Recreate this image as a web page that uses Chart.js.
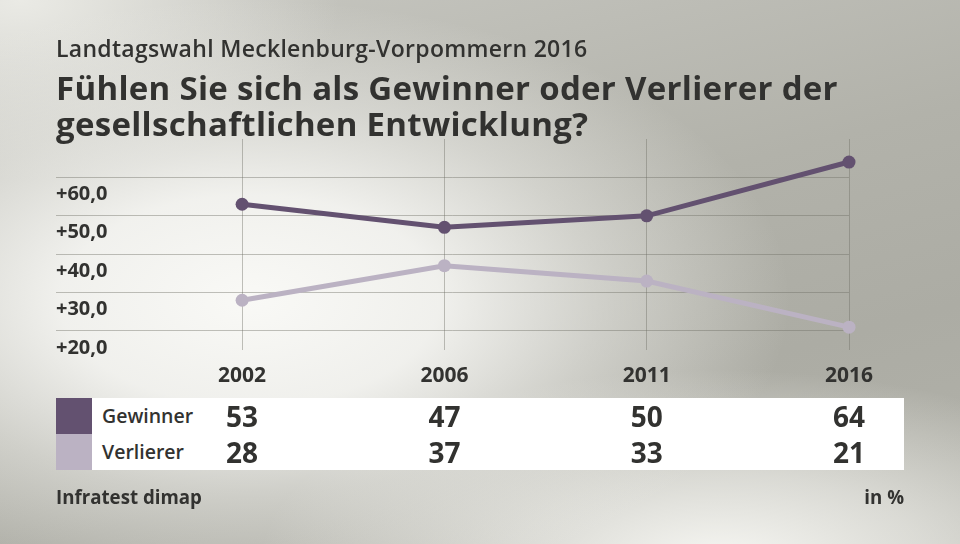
<!DOCTYPE html>
<html>
<head>
<meta charset="utf-8">
<script src="https://cdn.jsdelivr.net/npm/chart.js@4"></script>
<style>
  html, body { margin: 0; padding: 0; }
  body {
    width: 960px; height: 544px; overflow: hidden; position: relative;
    font-family: "Open Sans", sans-serif; color: #323230;
    background:
      radial-gradient(ellipse 540px 300px at 250px 300px, rgba(249,249,246,1) 0%, rgba(247,247,244,0.9) 35%, rgba(240,240,236,0.5) 65%, rgba(240,240,236,0) 100%),
      radial-gradient(ellipse 320px 180px at 20px 0px, rgba(236,236,231,0.95) 0%, rgba(236,236,231,0) 100%),
      radial-gradient(ellipse 460px 190px at 720px 560px, rgba(246,246,242,1) 0%, rgba(246,246,242,0.6) 45%, rgba(246,246,242,0) 100%),
      linear-gradient(165deg, #c8c8c2 0%, #b2b2aa 45%, #acaca4 70%, #b2b2aa 100%);
  }
  #chart { position: absolute; left: 0; top: 0; z-index: 0; }
  .txt { position: absolute; z-index: 1; white-space: nowrap; }
  #sub { left: 56px; top: 37px; font-size: 23px; line-height: 23px; font-weight: 600; letter-spacing: 0.3px; }
  #title { left: 56px; top: 70px; font-size: 33px; line-height: 36px; font-weight: 700; letter-spacing: 0.3px; }
  #source { left: 56px; top: 488px; font-size: 18.7px; line-height: 18px; font-weight: 700; }
  #unit { right: 56px; top: 488px; font-size: 18.7px; line-height: 18px; font-weight: 700; }
  #table { position: absolute; left: 56px; top: 398px; width: 848px; height: 72px; z-index: 1; }
  .row { position: absolute; left: 0; width: 848px; height: 36px; }
  .swatch { position: absolute; left: 0; top: 0; width: 36px; height: 36px; }
  .cells { position: absolute; left: 36px; top: 0; right: 0; height: 36px; background: #fff; }
  .name { position: absolute; left: 46px; top: 0; line-height: 36px; font-size: 19.5px; font-weight: 600; }
  .val { position: absolute; top: 0; line-height: 36px; font-size: 28px; font-weight: 700; transform: translateX(-50%); }
</style>
</head>
<body>
<div id="sub" class="txt">Landtagswahl Mecklenburg-Vorpommern 2016</div>
<div id="title" class="txt">Fühlen Sie sich als Gewinner oder Verlierer der<br>gesellschaftlichen Entwicklung?</div>
<canvas id="chart" width="960" height="544"></canvas>
<div id="table"></div>
<div id="source" class="txt">Infratest dimap</div>
<div id="unit" class="txt">in %</div>
<script>
// values
const years = ["2002", "2006", "2011", "2016"];
const gewinner = [53, 47, 50, 64];
const verlierer = [28, 37, 33, 21];
const yTicks = [20, 30, 40, 50, 60];

const seriesNames = ["Gewinner", "Verlierer"];
const seriesValues = [gewinner, verlierer];
const seriesColors = ["#635170", "#bbb2c3"];

const gridColor = "rgba(110,110,100,0.42)";
const textColor = "#323230";

// build the table rows below the chart
const table = document.getElementById("table");
seriesNames.forEach((name, r) => {
  const row = document.createElement("div");
  row.className = "row";
  row.style.top = (r * 36) + "px";
  row.innerHTML = `<div class="swatch" style="background:${seriesColors[r]}"></div><div class="cells"></div><div class="name">${name}</div>` +
    seriesValues[r].map((v, i) => `<div class="val" data-i="${i}">${v}</div>`).join("");
  table.appendChild(row);
});

// place table values under the x positions of the chart
const tablePlacer = {
  id: "tablePlacer",
  afterDraw(chart) {
    const xs = chart.scales.x;
    document.querySelectorAll(".val").forEach((el) => {
      el.style.left = (xs.getPixelForValue(Number(el.dataset.i)) - 56) + "px";
    });
  }
};

new Chart(document.getElementById("chart"), {
  type: "line",
  data: {
    datasets: seriesNames.map((name, r) => ({
      label: name,
      data: seriesValues[r].map((v, i) => ({ x: i, y: v })),
      borderColor: seriesColors[r],
      backgroundColor: seriesColors[r],
      borderWidth: 5,
      pointRadius: 6.5,
      pointBorderWidth: 0,
      pointBackgroundColor: seriesColors[r],
      tension: 0,
      clip: false
    })).reverse()
  },
  options: {
    responsive: false,
    animation: false,
    events: [],
    layout: { padding: { left: 56, right: 111, top: 139, bottom: 141 } },
    plugins: { legend: { display: false }, tooltip: { enabled: false } },
    scales: {
      x: {
        type: "linear",
        min: -0.92,
        max: 3,
        afterBuildTicks: (s) => { s.ticks = years.map((_, i) => ({ value: i })); },
        ticks: {
          autoSkip: false, maxRotation: 0, padding: 14, color: textColor,
          font: { family: "Open Sans", size: 21, weight: "bold" },
          callback: (v) => years[v]
        },
        grid: { color: gridColor, lineWidth: 1, drawTicks: false },
        border: { display: false }
      },
      y: {
        min: 15.1,
        max: 70,
        afterBuildTicks: (s) => { s.ticks = yTicks.map((v) => ({ value: v })); },
        ticks: {
          mirror: true, padding: 0, labelOffset: 17, color: textColor,
          font: { family: "Open Sans", size: 20, weight: "bold" },
          callback: (v) => "+" + v.toFixed(1).replace(".", ",")
        },
        grid: { color: gridColor, lineWidth: 1, drawTicks: false },
        border: { display: false }
      }
    }
  },
  plugins: [tablePlacer]
});
</script>
</body>
</html>
